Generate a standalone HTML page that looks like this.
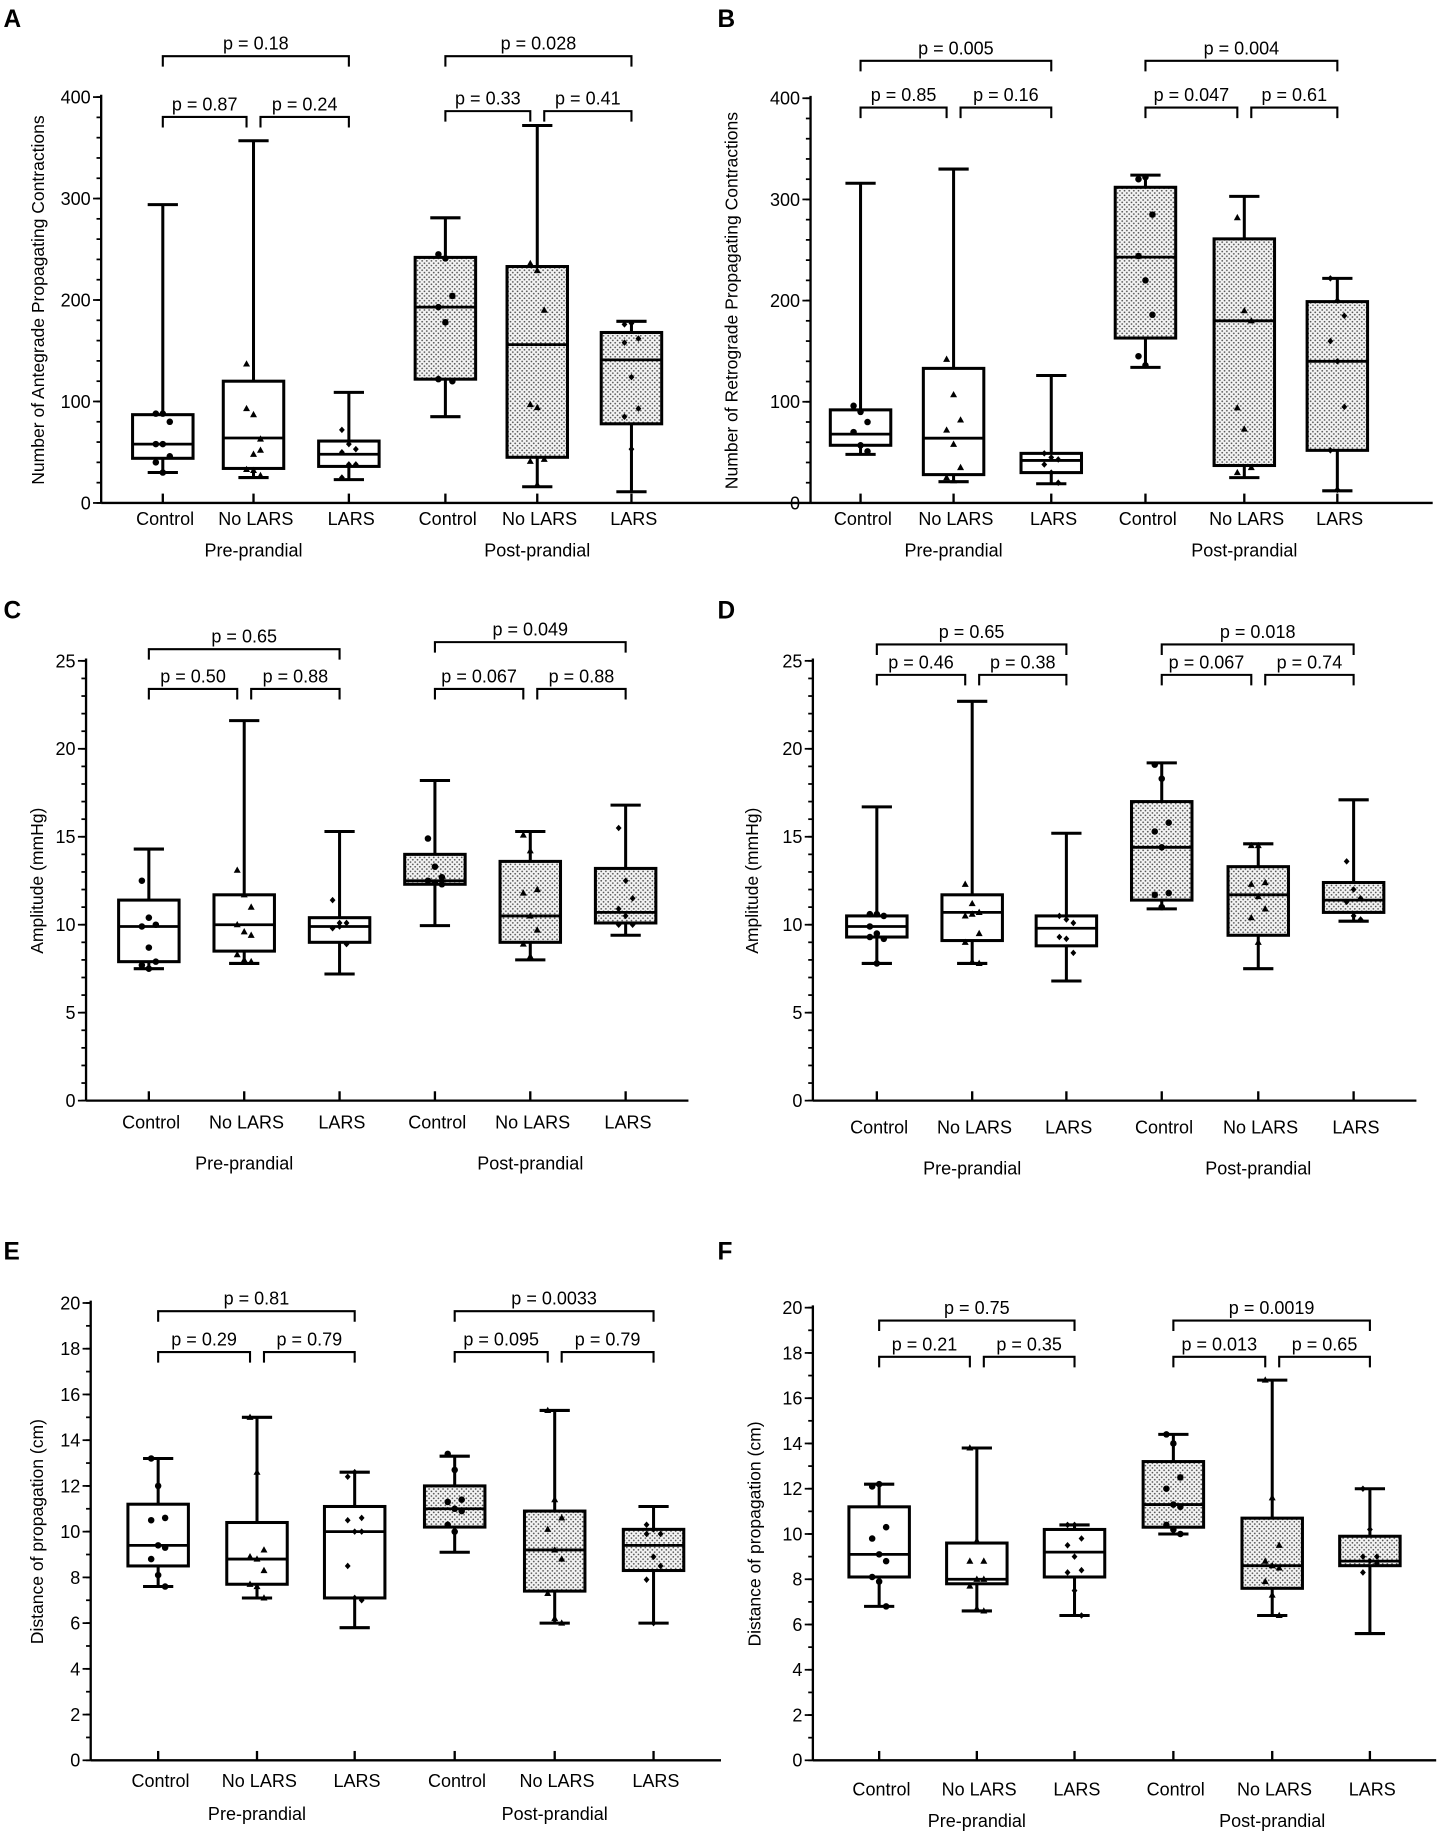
<!DOCTYPE html>
<html><head><meta charset="utf-8"><style>
html,body{margin:0;padding:0;background:#fff;}
svg{display:block;font-family:"Liberation Sans",sans-serif;}
</style></head><body>
<svg id="fig" xmlns="http://www.w3.org/2000/svg" width="1442" height="1834" viewBox="0 0 1240 1568" preserveAspectRatio="none">
<defs>
<pattern id="dots" width="4" height="4" patternUnits="userSpaceOnUse">
<rect width="4" height="4" fill="#f4f4f4"/><circle cx="1" cy="1" r="0.75" fill="#555"/><circle cx="3" cy="3" r="0.75" fill="#555"/>
</pattern>
</defs>
</svg>
<script>
const categories = ['Control','No LARS','LARS','Control','No LARS','LARS'];
const groups = ['Pre-prandial','Post-prandial'];

// Panel A
const aMin=[30,25,23,85,16,11];
const aQ1=[44,34,36,122,45,78];
const aMed=[58,64,48,193,156,141];
const aQ3=[87,120,61,242,233,168];
const aMax=[294,357,109,281,372,179];
const aPts=[[88,88,80,58,58,46,40,30],[93,87,63,137,48,52,33,32,27],[72,58,53,50,38,38,25],[245,241,204,193,178,120,122],[236,229,190,97,94,43,41,18],[176,177,162,158,124,93,85,53]];
const aP=['p = 0.87','p = 0.24','p = 0.18','p = 0.33','p = 0.41','p = 0.028'];
const aTicks=[0,100,200,300,400];
// Panel B
const bMin=[48,21,19,134,25,12];
const bQ1=[57,28,30,163,37,52];
const bMed=[68,64,42,243,180,140];
const bQ3=[92,133,49,312,261,199];
const bMax=[316,330,126,324,303,222];
const bPts=[[96,90,80,70,57,51],[142,107,82,72,58,35,25,22],[49,45,43,38,30,20],[320,322,285,244,220,186,145,136],[282,190,180,94,73,35,30],[222,200,185,160,140,95,52,13]];
const bP=['p = 0.85','p = 0.16','p = 0.005','p = 0.047','p = 0.61','p = 0.004'];
const bTicks=[0,100,200,300,400];
// Panel C
const cMin=[7.5,7.8,7.2,9.95,8.0,9.4];
const cQ1=[7.9,8.5,9.0,12.3,9.0,10.1];
const cMed=[9.9,10.0,9.9,12.5,10.5,10.7];
const cQ3=[11.4,11.7,10.4,14.0,13.6,13.2];
const cMax=[14.3,21.6,15.3,18.2,15.3,16.8];
const cPts=[[12.5,10.4,10.0,9.9,8.7,7.9,7.7,7.5],[13.1,11.7,11.0,10.0,9.6,9.4,8.3,8.0,7.9],[11.4,10.1,10.1,9.8,9.9,8.9],[14.9,13.3,12.7,12.5,12.4,12.3],[15.1,14.2,12.0,11.8,10.5,9.7,8.9,8.2],[15.5,12.5,11.5,10.9,10.5,10.0,10.0]];
const cP=['p = 0.50','p = 0.88','p = 0.65','p = 0.067','p = 0.88','p = 0.049'];
const cTicks=[0,5,10,15,20,25];
// Panel D
const dMin=[7.8,7.8,6.8,10.9,7.5,10.2];
const dQ1=[9.3,9.1,8.8,11.4,9.4,10.7];
const dMed=[9.9,10.7,9.8,14.4,11.7,11.4];
const dQ3=[10.5,11.7,10.5,17.0,13.3,12.4];
const dMax=[16.7,22.7,15.2,19.2,14.6,17.1];
const dPts=[[10.6,10.6,10.5,9.9,9.5,9.2,9.3,7.8],[12.3,11.2,10.7,10.5,10.6,9.5,9.0,7.9,7.8],[10.5,10.3,10.1,9.3,9.2,8.4],[19.1,18.3,15.8,15.3,14.4,11.8,11.7,11.0],[14.5,14.5,12.4,12.3,11.6,10.9,10.4,9.0],[13.6,12.0,11.5,11.3,10.5,10.3]];
const dP=['p = 0.46','p = 0.38','p = 0.65','p = 0.067','p = 0.74','p = 0.018'];
const dTicks=[0,5,10,15,20,25];
// Panel E
const eMin=[7.6,7.1,5.8,9.1,6.0,6.0];
const eQ1=[8.5,7.7,7.1,10.2,7.4,8.3];
const eMed=[9.4,8.8,10.0,11.0,9.2,9.4];
const eQ3=[11.2,10.4,11.1,12.0,10.9,10.1];
const eMax=[13.2,15.0,12.6,13.3,15.3,11.1];
const ePts=[[13.2,12.0,10.6,10.5,9.4,9.3,8.8,8.1,7.6],[15.0,12.6,9.2,8.9,8.8,8.3,7.7,7.6,7.1],[12.4,12.6,10.6,10.5,10.0,10.0,8.5,7.1,7.0],[13.4,12.7,11.4,11.3,11.0,10.9,10.3,10.0],[15.3,11.4,10.6,10.1,9.2,8.8,7.3,6.2,6.0],[10.3,10.1,9.9,9.9,8.9,8.5,7.9,6.0]];
const eP=['p = 0.29','p = 0.79','p = 0.81','p = 0.095','p = 0.79','p = 0.0033'];
const eTicks=[0,2,4,6,8,10,12,14,16,18,20];
// Panel F
const fMin=[6.8,6.6,6.4,10.0,6.4,5.6];
const fQ1=[8.1,7.8,8.1,10.3,7.6,8.6];
const fMed=[9.1,8.0,9.2,11.3,8.6,8.8];
const fQ3=[11.2,9.6,10.2,13.2,10.7,9.9];
const fMax=[12.2,13.8,10.4,14.4,16.8,12.0];
const fPts=[[12.1,12.2,10.3,9.8,9.1,8.8,8.1,7.9,6.8],[13.8,9.7,8.8,8.8,8.0,8.0,7.7,6.7,6.6],[10.4,10.4,9.8,9.5,9.0,8.4,8.3,7.5,6.4],[14.4,14.0,12.5,12.0,11.3,11.2,10.4,10.2,10.0],[16.8,11.6,9.5,8.8,8.6,8.5,7.9,7.3,6.4],[12.0,10.2,9.0,9.0,8.8,8.7,8.3]];
const fP=['p = 0.21','p = 0.35','p = 0.75','p = 0.013','p = 0.65','p = 0.0019'];
const fTicks=[0,2,4,6,8,10,12,14,16,18,20];

const NS='http://www.w3.org/2000/svg';
const svg=document.getElementById('fig');
function mk(tag,attrs,parent,text){const e=document.createElementNS(NS,tag);for(const k in attrs)e.setAttribute(k,attrs[k]);if(text!==undefined)e.textContent=text;(parent||svg).appendChild(e);return e;}

function drawPanel(cfg,d){
  const g=mk('g',{},svg);
  
  
  const y=v=>cfg.y0+(v-0)/(cfg.vmax)*(cfg.yTop-cfg.y0);
  const lbl=mk('text',{x:cfg.lx,y:cfg.ly,'font-size':21,'font-weight':'bold'},g,cfg.letter);
  
  
  // axes
  const ax=mk('line',{x1:cfg.ax,y1:cfg.yTop-2,x2:cfg.ax,y2:cfg.y0,stroke:'#000','stroke-width':2},g);
  
  
  const xa=mk('line',{x1:cfg.ax,y1:cfg.y0,x2:cfg.right,y2:cfg.y0,stroke:'#000','stroke-width':2},g);
  
  
  // ticks
  for(let v=0;v<=cfg.vmax+1e-9;v+=cfg.minor){
    mk('line',{x1:cfg.ax-4,y1:y(v),x2:cfg.ax,y2:y(v),stroke:'#000','stroke-width':1.5},g);
  }
  d.ticks.forEach(t=>{
    mk('line',{x1:cfg.ax-7,y1:y(t),x2:cfg.ax,y2:y(t),stroke:'#000','stroke-width':1.5},g);
    const tl=mk('text',{x:cfg.ax-9,y:y(t)+5.5,'font-size':15.5,'text-anchor':'end'},g,String(t));
    
    
  });
  const yt=mk('text',{x:0,y:0,'font-size':15,'text-anchor':'middle',transform:`translate(${cfg.tx},${(cfg.yTop+cfg.y0)/2}) rotate(-90)`},g,cfg.title);
  
  
  // categories
  categories.forEach((c,i)=>{
    const cx=cfg.cats[i];
    mk('line',{x1:cx,y1:cfg.y0,x2:cx,y2:cfg.y0-8,stroke:'#000','stroke-width':2},g);
    const t=mk('text',{x:cx+2,y:cfg.labY,'font-size':15.5,'text-anchor':'middle'},g,c);
    
    
  });
  groups.forEach((gn,j)=>{
    const t=mk('text',{x:cfg.cats[j*3+1],y:cfg.grpY,'font-size':15.5,'text-anchor':'middle'},g,gn);
    
    
  });
  // boxes
  for(let i=0;i<6;i++){
    const cx=cfg.cats[i],hw=26,cw=13;
    const bg=mk('g',{},g);
    
    
    mk('line',{x1:cx,y1:y(d.min[i]),x2:cx,y2:y(d.max[i]),stroke:'#000','stroke-width':2.6},bg);
    mk('line',{x1:cx-cw,y1:y(d.max[i]),x2:cx+cw,y2:y(d.max[i]),stroke:'#000','stroke-width':2.6},bg);
    mk('line',{x1:cx-cw,y1:y(d.min[i]),x2:cx+cw,y2:y(d.min[i]),stroke:'#000','stroke-width':2.6},bg);
    mk('rect',{x:cx-hw,y:y(d.q3[i]),width:2*hw,height:y(d.q1[i])-y(d.q3[i]),fill:i<3?'#fff':'url(#dots)',stroke:'#000','stroke-width':2.6},bg);
    mk('line',{x1:cx-hw,y1:y(d.med[i]),x2:cx+hw,y2:y(d.med[i]),stroke:'#000','stroke-width':2.4},bg);
    d.pts[i].forEach((v,k)=>{
      const px=cx+((k%3)-1)*6, py=y(v);
      let p;
      if(i%3===0) p=mk('circle',{cx:px,cy:py,r:2.8,fill:'#000'},bg);
      else if(i%3===1) p=mk('polygon',{points:`${px},${py-3.2} ${px-3},${py+2.2} ${px+3},${py+2.2}`,fill:'#000'},bg);
      else p=mk('polygon',{points:`${px},${py-2.8} ${px+2.5},${py} ${px},${py+2.8} ${px-2.5},${py}`,fill:'#000'},bg);
      
      
    });
  }
  // brackets
  function bracket(x1,x2,by,ty,txt,dn){
    const bg=mk('g',{},g);
    
    
    mk('polyline',{points:`${x1},${by+9} ${x1},${by} ${x2},${by} ${x2},${by+9}`,fill:'none',stroke:'#000','stroke-width':1.8},bg);
    mk('text',{x:(x1+x2)/2,y:ty+5.5,'font-size':15.5,'text-anchor':'middle'},bg,txt);
  }
  [0,1].forEach(j=>{
    const c0=cfg.cats[j*3],c1=cfg.cats[j*3+1],c2=cfg.cats[j*3+2];
    const lb=cfg.lowB[j],tb=cfg.topB[j];
    bracket(c0,c1-6,lb,lb-11,d.p[j*3],'p-bracket');
    bracket(c1+6,c2,lb,lb-11,d.p[j*3+1],'p-bracket');
    bracket(c0,c2,tb,tb-11,d.p[j*3+2],'p-bracket');
  });
}

drawPanel({letter:'A',lx:3,ly:23,ax:87,right:697,yTop:83,y0:430,vmax:400,minor:20,tx:38,title:'Number of Antegrade Propagating Contractions',cats:[140,218,300,383,462,543],labY:449,grpY:476,lowB:[100,95],topB:[48,48]},
 {min:aMin,q1:aQ1,med:aMed,q3:aQ3,max:aMax,pts:aPts,p:aP,ticks:aTicks});
drawPanel({letter:'B',lx:617,ly:23,ax:697,right:1232,yTop:84,y0:430,vmax:400,minor:20,tx:634,title:'Number of Retrograde Propagating Contractions',cats:[740,820,904,985,1070,1150],labY:449,grpY:476,lowB:[92,92],topB:[52,52]},
 {min:bMin,q1:bQ1,med:bMed,q3:bQ3,max:bMax,pts:bPts,p:bP,ticks:bTicks});
drawPanel({letter:'C',lx:3,ly:529,ax:74,right:592,yTop:565,y0:941,vmax:25,minor:1,tx:37,title:'Amplitude (mmHg)',cats:[128,210,292,374,456,538],labY:965,grpY:1000,lowB:[589,589],topB:[555,549]},
 {min:cMin,q1:cQ1,med:cMed,q3:cQ3,max:cMax,pts:cPts,p:cP,ticks:cTicks});
drawPanel({letter:'D',lx:617,ly:529,ax:699,right:1218,yTop:565,y0:941,vmax:25,minor:1,tx:652,title:'Amplitude (mmHg)',cats:[754,836,917,999,1082,1164],labY:969,grpY:1004,lowB:[577,577],topB:[551,551]},
 {min:dMin,q1:dQ1,med:dMed,q3:dQ3,max:dMax,pts:dPts,p:dP,ticks:dTicks});
drawPanel({letter:'E',lx:3,ly:1077,ax:78,right:620,yTop:1114,y0:1505,vmax:20,minor:1,tx:37,title:'Distance of propagation (cm)',cats:[136,221,305,391,477,562],labY:1528,grpY:1556,lowB:[1156,1156],topB:[1121,1121]},
 {min:eMin,q1:eQ1,med:eMed,q3:eQ3,max:eMax,pts:ePts,p:eP,ticks:eTicks});
drawPanel({letter:'F',lx:617,ly:1077,ax:699,right:1235,yTop:1118,y0:1505,vmax:20,minor:1,tx:654,title:'Distance of propagation (cm)',cats:[756,840,924,1009,1094,1178],labY:1535,grpY:1562,lowB:[1160,1160],topB:[1129,1129]},
 {min:fMin,q1:fQ1,med:fMed,q3:fQ3,max:fMax,pts:fPts,p:fP,ticks:fTicks});
</script>
</body></html>
